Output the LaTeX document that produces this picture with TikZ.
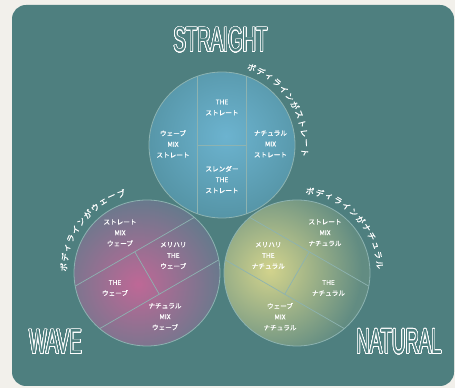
\documentclass[tikz,border=0pt]{standalone}
\usepackage{fontspec}
\setmainfont{Noto Sans CJK JP}
\newfontfamily\jparc{Noto Sans CJK JP}[FakeBold=1.2]
\newfontfamily\jplbl{Noto Sans CJK JP}[FakeBold=0.8]
\newfontfamily\headfont[FakeStretch=0.53]{Liberation Sans}
\usepackage{contour}
\contourlength{0.65pt}
\contournumber{32}
\usetikzlibrary{calc}
\definecolor{paper}{HTML}{F2F0EB}
\definecolor{bgteal}{HTML}{4E7F7F}
\definecolor{rimline}{HTML}{8DB3B1}
\definecolor{blueC}{HTML}{6CB3CF}
\definecolor{blueO}{HTML}{5290A0}
\definecolor{pinkC}{HTML}{BE6896}
\definecolor{pinkO}{HTML}{647A8C}
\definecolor{yelC}{HTML}{D2D38C}
\definecolor{yelO}{HTML}{628C82}
\tikzset{
  lbl/.style={text=white, font=\jplbl\fontsize{6.6}{10.8}\selectfont, align=center, inner sep=0pt},
  arcchar/.style={text=white, font=\jparc\fontsize{8.3}{8.3}\selectfont, inner sep=0pt},
  rim/.style={draw=rimline, line width=0.8pt},
  divider/.style={draw=rimline, line width=0.7pt},
  head/.style={inner sep=0pt, font=\headfont\fontsize{35}{35}\selectfont},
}
\newcommand{\arctext}[6]{% name, center, radius, start, step, chars
  \foreach \ch [count=\i from 0] in {#6} {
    \pgfmathsetmacro\ang{#4+\i*#5}
    \node[arcchar, rotate=\ang-90] (#1\i) at ($(#2)+(\ang:#3)$) {\ch};
  }}
\newcommand{\splitlines}[2]{% center, rotation
  \begin{scope}[shift={(#1)}, rotate=#2]
    \draw[divider] (-24.5,-68.8) -- (-24.5,68.8);
    \draw[divider] (24.5,-68.8) -- (24.5,68.8);
    \draw[divider] (-24.5,0) -- (24.5,0);
  \end{scope}}
\begin{document}
\begin{tikzpicture}[x=1pt,y=1pt]
\useasboundingbox (0,0) rectangle (455,388);
\fill[paper] (0,0) rectangle (455,388);
\fill[bgteal, rounded corners=14pt] (12,2) rectangle (454,383);

\coordinate (T) at (222,243);
\coordinate (W) at (147,115);
\coordinate (N) at (297,115);

% top circle
\fill[blueO] (T) circle (73pt);
\begin{scope}
  \clip (T) circle (73pt);
  \shade[inner color=blueC, outer color=blueO] (226,252) circle (95pt);
\end{scope}
\draw[rim] (T) circle (73pt);
\splitlines{T}{0}

% left circle
\fill[pinkO] (W) circle (73pt);
\begin{scope}
  \clip (W) circle (73pt);
  \shade[inner color=pinkC, outer color=pinkO] (138,104) circle (88pt);
\end{scope}
\draw[rim] (W) circle (73pt);
\splitlines{W}{-60}

% right circle
\fill[yelO] (N) circle (73pt);
\begin{scope}
  \clip (N) circle (73pt);
  \shade[inner color=yelC, outer color=yelO] (270,118) circle (92pt);
\end{scope}
\draw[rim] (N) circle (73pt);
\splitlines{N}{60}

% labels top
\node[lbl] (s1) at (222,280.5) {THE\\ストレート};
\node[lbl] (s2) at (173,244) {ウェーブ\\MIX\\ストレート};
\node[lbl] (s3) at (270.5,244) {ナチュラル\\MIX\\ストレート};
\node[lbl] (s4) at (222,208.5) {スレンダー\\THE\\ストレート};

% labels left
\node[lbl] (w1) at (120,155.2) {ストレート\\MIX\\ウェーブ};
\node[lbl] (w2) at (173.3,132.5) {メリハリ\\THE\\ウェーブ};
\node[lbl] (w3) at (115,100) {THE\\ウェーブ};
\node[lbl] (w4) at (165,71.3) {ナチュラル\\MIX\\ウェーブ};

% labels right
\node[lbl] (n1) at (325,155.3) {ストレート\\MIX\\ナチュラル};
\node[lbl] (n2) at (268.3,132.5) {メリハリ\\THE\\ナチュラル};
\node[lbl] (n3) at (328.5,100) {THE\\ナチュラル};
\node[lbl] (n4) at (280,71.3) {ウェーブ\\MIX\\ナチュラル};

% curved captions
\arctext{ta}{T}{83pt}{69}{-6.75}{ボ,デ,ィ,ラ,イ,ン,が,ス,ト,レ,ー,ト}
\arctext{wa}{W}{83.5pt}{176}{-6.8}{ボ,デ,ィ,ラ,イ,ン,が,ウ,ェ,ー,ブ}
\arctext{na}{N}{83pt}{81}{-6.85}{ボ,デ,ィ,ラ,イ,ン,が,ナ,チ,ュ,ラ,ル}

% headings
\node[head] (hs) at (220.5,348) {\contour{white}{\textcolor{bgteal}{STRAIGHT}}};
\node[head] (hw) at (55.5,46) {\contour{white}{\textcolor{bgteal}{WAVE}}};
\node[head] (hn) at (399,46) {\contour{white}{\textcolor{bgteal}{NATURAL}}};
\end{tikzpicture}
\end{document}
